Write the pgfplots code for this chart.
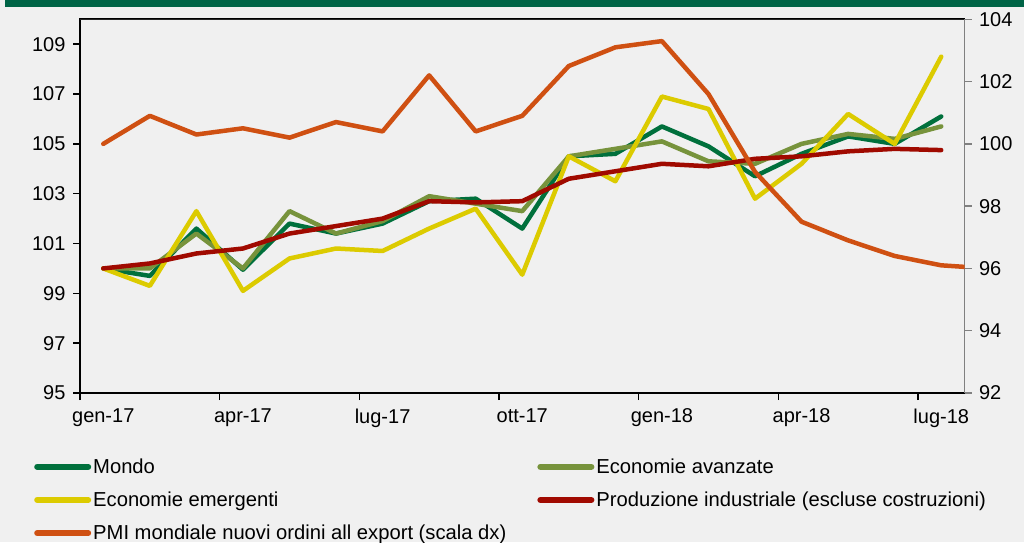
\documentclass[border=0pt]{standalone}
\usepackage{pgfplots}
\pgfplotsset{compat=1.18}
\usepackage{fontspec}
\setmainfont{Liberation Sans}
\definecolor{bgc}{RGB}{240,240,240}
\definecolor{topbar}{RGB}{0,100,70}
\definecolor{mondo}{RGB}{0,112,60}
\definecolor{avanz}{RGB}{119,147,60}
\definecolor{emerg}{RGB}{220,203,0}
\definecolor{prod}{RGB}{160,10,0}
\definecolor{pmi}{RGB}{207,80,18}
\definecolor{raxis}{RGB}{128,128,128}
\begin{document}
\begin{tikzpicture}[x=1pt,y=1pt]
\fill[bgc] (0,0) rectangle (1024,542);
\path[use as bounding box] (0,0) rectangle (1024,542);
\fill[topbar] (5,534.5) rectangle (1024,542);
\begin{axis}[
  at={(80pt,149pt)}, anchor=south west,
  scale only axis, width=884.5pt, height=373.7pt,
  xmin=-0.5, xmax=18.5, ymin=95, ymax=110,
  xtick={0,3,6,9,12,15,18},
  xticklabels={gen-17,apr-17,lug-17,ott-17,gen-18,apr-18,lug-18},
  minor xtick={-0.5,2.5,5.5,8.5,11.5,14.5,17.5},
  major x tick style={draw=none},
  minor tick length=7pt, major tick length=7pt,
  tick align=outside, tick pos=left,
  ytick={95,97,...,109},
  axis line style={line width=1.8pt, black},
  every tick/.style={line width=1.5pt, black},
  /pgf/number format/assume math mode=true,
  tick label style={font=\fontsize{20}{24}\selectfont},
  yticklabel style={xshift=-4pt},
  xticklabel style={yshift=-5pt},
  axis background/.style={fill=bgc},
  legend style={at={(-0.052,-0.17)}, anchor=north west, draw=none, fill=none,
    font=\fontsize{20.2}{24}\selectfont, legend columns=2, inner sep=0pt,
    /tikz/every even column/.append style={column sep=29pt},
    row sep=13pt, legend cell align=left},
  legend image code/.code={\draw[line width=6pt, line cap=round, #1] (3pt,0pt) -- (54pt,0pt);},
  every axis plot/.append style={line width=4.5pt, line cap=round, line join=round, mark=none},
]
\addplot[mondo] coordinates {(0,100.0)(1,99.7)(2,101.6)(3,99.95)(4,101.8)(5,101.4)(6,101.8)(7,102.7)(8,102.8)(9,101.6)(10,104.5)(11,104.6)(12,105.7)(13,104.9)(14,103.7)(15,104.6)(16,105.3)(17,105.0)(18,106.1)};
\addlegendentry{Mondo}
\addplot[avanz] coordinates {(0,100.0)(1,100.0)(2,101.4)(3,100.0)(4,102.3)(5,101.4)(6,101.9)(7,102.9)(8,102.6)(9,102.3)(10,104.5)(11,104.8)(12,105.1)(13,104.3)(14,104.2)(15,105.0)(16,105.4)(17,105.2)(18,105.7)};
\addlegendentry{Economie avanzate}
\addplot[emerg] coordinates {(0,100.0)(1,99.3)(2,102.3)(3,99.1)(4,100.4)(5,100.8)(6,100.7)(7,101.6)(8,102.4)(9,99.75)(10,104.5)(11,103.5)(12,106.9)(13,106.4)(14,102.8)(15,104.2)(16,106.2)(17,105.0)(18,108.5)};
\addlegendentry{Economie emergenti}
\addplot[prod] coordinates {(0,100.0)(1,100.2)(2,100.6)(3,100.8)(4,101.4)(5,101.7)(6,102.0)(7,102.7)(8,102.65)(9,102.7)(10,103.6)(11,103.9)(12,104.2)(13,104.1)(14,104.4)(15,104.5)(16,104.7)(17,104.8)(18,104.75)};
\addlegendentry{Produzione industriale (escluse costruzioni)}
\addlegendimage{pmi}
\addlegendentry{PMI mondiale nuovi ordini all export (scala dx)}
\draw[line width=1.8pt, black!85] (rel axis cs:0,1) -- (rel axis cs:1,1);
\end{axis}
\begin{axis}[
  at={(80pt,149pt)}, anchor=south west,
  scale only axis, width=884.5pt, height=373.7pt,
  xmin=-0.5, xmax=18.5, ymin=92, ymax=104,
  axis y line*=right, axis x line=none,
  ytick={92,94,...,104},
  tick align=outside, major tick length=7pt,
  axis line style={line width=1.8pt, raxis},
  every tick/.style={line width=1.5pt, raxis},
  /pgf/number format/assume math mode=true,
  tick label style={font=\fontsize{20}{24}\selectfont},
  yticklabel style={xshift=4pt},
  every axis plot/.append style={line width=4.5pt, line cap=round, line join=round, mark=none},
]
\addplot[pmi] coordinates {(0,100.0)(1,100.9)(2,100.3)(3,100.5)(4,100.2)(5,100.7)(6,100.4)(7,102.2)(8,100.4)(9,100.9)(10,102.5)(11,103.1)(12,103.3)(13,101.6)(14,99.1)(15,97.5)(16,96.9)(17,96.4)(18,96.1)(19,96.0)};
\end{axis}
\end{tikzpicture}
\end{document}
